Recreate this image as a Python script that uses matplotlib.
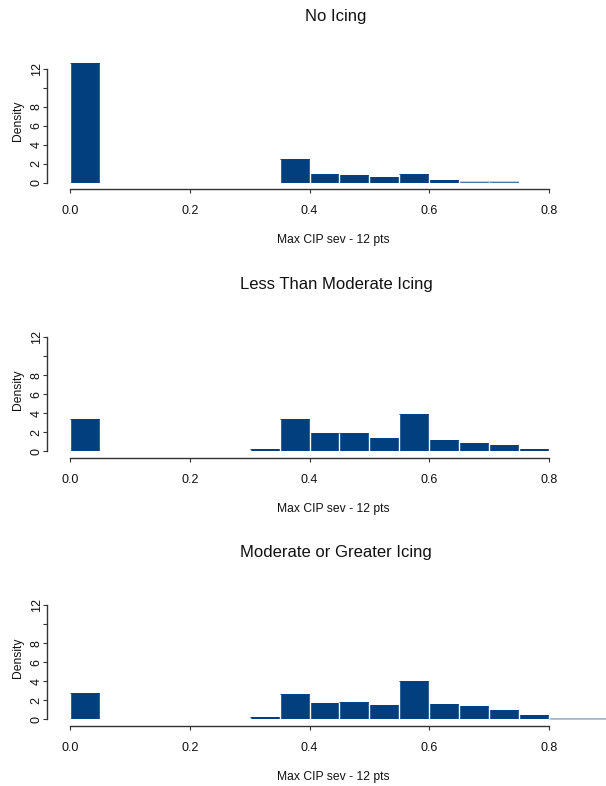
import matplotlib
matplotlib.use('Agg')
import matplotlib.pyplot as plt

plt.rcParams['font.family'] = ['Liberation Sans', 'DejaVu Sans']

# Histogram bins (left edges), width 0.05
bin_left = [0.00, 0.05, 0.10, 0.15, 0.20, 0.25, 0.30, 0.35, 0.40,
            0.45, 0.50, 0.55, 0.60, 0.65, 0.70, 0.75, 0.80, 0.85]
bin_width = 0.05

# Densities
no_icing = [12.64, 0, 0, 0, 0, 0, 0, 2.50, 0.92,
            0.81, 0.60, 0.92, 0.25, 0.10, 0.10, 0, 0, 0]
less_than_moderate = [3.36, 0, 0, 0, 0, 0, 0.28, 3.36, 1.90,
                      1.90, 1.39, 3.95, 1.14, 0.83, 0.69, 0.24, 0, 0]
moderate_or_greater = [2.76, 0, 0, 0, 0, 0, 0.24, 2.65, 1.67,
                       1.78, 1.47, 4.01, 1.57, 1.43, 1.01, 0.45, 0.07, 0.07]

titles = ["No Icing", "Less Than Moderate Icing", "Moderate or Greater Icing"]
series = [no_icing, less_than_moderate, moderate_or_greater]
x_label = "Max CIP sev - 12 pts"
y_label = "Density"
x_ticks = [0.0, 0.2, 0.4, 0.6, 0.8]
x_tick_labels = ["0.0", "0.2", "0.4", "0.6", "0.8"]
y_ticks = [0, 2, 4, 6, 8, 10, 12]
y_tick_labels = ["0", "2", "4", "6", "8", "", "12"]

W, H = 606, 786
fig = plt.figure(figsize=(W / 100, H / 100), dpi=100)

bar_color = '#023F7E'
axis_color = '#333333'
x0_px = 70.0
px_per_x = 598.75
px_per_y = 9.5
y0_px_list = [182.7, 451.3, 719.3]
xmax, ymax = 0.9, 13

for title, vals, y0 in zip(titles, series, y0_px_list):
    ax = fig.add_axes([x0_px / W, (H - y0) / H,
                       xmax * px_per_x / W, ymax * px_per_y / H])
    lefts = [l for l, v in zip(bin_left, vals) if v > 0]
    heights = [v for v in vals if v > 0]
    big = [(l, h) for l, h in zip(lefts, heights) if h >= 0.2]
    small = [(l, h) for l, h in zip(lefts, heights) if h < 0.2]
    if big:
        ax.bar([b[0] for b in big], [b[1] for b in big], width=bin_width,
               align='edge', color=bar_color, linewidth=0, clip_on=False)
    if small:
        ax.bar([b[0] for b in small], [b[1] for b in small], width=bin_width,
               align='edge', color=bar_color, linewidth=0, clip_on=False,
               snap=False)
    # white borders between adjacent bars (R hist border="white")
    sep_x, sep_top = [], []
    for l, h in zip(lefts, heights):
        for xe in (l, l + bin_width):
            xe = round(xe, 4)
            if xe in sep_x:
                i = sep_x.index(xe)
                sep_top[i] = max(sep_top[i], h)
            else:
                sep_x.append(xe)
                sep_top.append(h)
    ax.vlines(sep_x, 0, sep_top, colors='white', linewidth=1.0, clip_on=False)
    ax.set_xlim(0, xmax)
    ax.set_ylim(0, ymax)
    ax.patch.set_visible(False)
    for s in ('top', 'right'):
        ax.spines[s].set_visible(False)
    ax.spines['left'].set_position(('outward', 23 * 0.72))
    ax.spines['left'].set_bounds(0, 12)
    ax.spines['bottom'].set_position(('outward', 6.3 * 0.72))
    ax.spines['bottom'].set_bounds(0, 0.8)
    for s in ('left', 'bottom'):
        ax.spines[s].set_color(axis_color)
        ax.spines[s].set_linewidth(1.0)
    ax.set_xticks(x_ticks)
    ax.set_xticklabels(x_tick_labels)
    ax.set_yticks(y_ticks)
    ax.set_yticklabels(y_tick_labels, rotation=90, va='center')
    ax.tick_params(axis='both', direction='out', length=2.6, width=0.8,
                   color=axis_color, labelsize=9, labelcolor='#111111')
    ax.tick_params(axis='x', pad=9)
    ax.tick_params(axis='y', pad=0.5)

    fig.text(336 / W, 1 - (y0 - 166.5) / H, title, ha='center', va='center',
             fontsize=12, color='#111111')
    fig.text(333 / W, 1 - (y0 + 57.3) / H, x_label, ha='center', va='center',
             fontsize=8.7, color='#111111')
    fig.text(18 / W, 1 - (y0 - 62) / H, y_label, ha='center', va='center',
             rotation=90, fontsize=8.7, color='#111111')

fig.savefig('out.png', dpi=100)
